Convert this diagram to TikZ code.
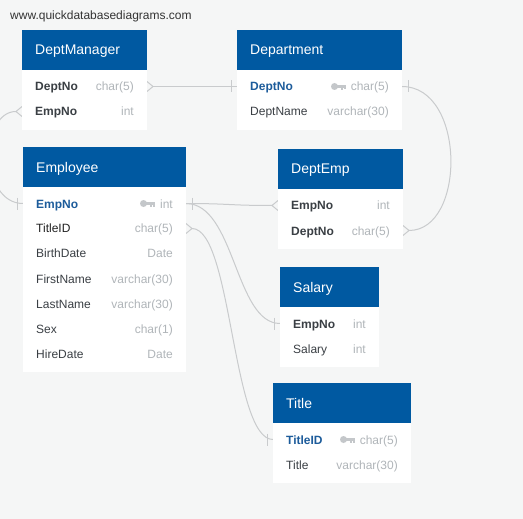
\documentclass[tikz,border=0pt]{standalone}
\usepackage{fontspec}
\setmainfont{Liberation Sans}
\usetikzlibrary{calc}
\definecolor{bg}{HTML}{F5F6F6}
\definecolor{hdr}{HTML}{0059A1}
\definecolor{fld}{HTML}{3A3F44}
\definecolor{fldd}{HTML}{222222}
\definecolor{typ}{HTML}{B0B5B9}
\definecolor{pk}{HTML}{1D5C9B}
\definecolor{conn}{HTML}{C9CBCD}
\definecolor{keyc}{HTML}{C4C7CA}
\definecolor{site}{HTML}{333333}
\newcommand\dbkey[2]{%
  \fill[keyc] (#1+3.5,#2) circle (3.5);
  \fill[keyc] (#1+6,#2-1.3) rectangle (#1+15,#2+1.3);
  \fill[keyc] (#1+10,#2+1.3) rectangle (#1+12,#2+3.6);
  \fill[keyc] (#1+13,#2+1.3) rectangle (#1+15,#2+3);
}
\begin{document}
\begin{tikzpicture}[x=1pt,y=-1pt,
  hdrbox/.style={fill=hdr, draw=none, anchor=north west, inner sep=0, minimum height=40pt},
  bodybox/.style={fill=white, draw=none, anchor=north west, inner sep=0},
  hdrtext/.style={text=white, font=\fontsize{14}{16}\selectfont, anchor=base west, inner sep=0},
  fname/.style={text=fld, font=\fontsize{12}{14}\selectfont, anchor=base west, inner sep=0},
  fdname/.style={fname, text=fldd},
  fkname/.style={fname, font=\fontsize{12}{14}\selectfont\bfseries},
  pkname/.style={fkname, text=pk},
  ftype/.style={text=typ, font=\fontsize{12}{14}\selectfont, anchor=base east, inner sep=0},
  connline/.style={draw=conn, line width=1pt},
]
\useasboundingbox (0,0) rectangle (523,519);
\fill[bg] (0,0) rectangle (523,519);
\clip (0,0) rectangle (523,519);

\node[anchor=base west, inner sep=0, text=site, font=\fontsize{12}{14}\selectfont] (site) at (10,19.5) {www.quickdatabasediagrams.com};

% connector end coordinates
\coordinate (dmDeptR) at (147,86.5);
\coordinate (dmDeptTip) at (153,86.5);
\coordinate (depDeptL) at (237,86.5);
\coordinate (depDeptR) at (402,86.5);
\coordinate (deDeptR) at (403,230.5);
\coordinate (deDeptTip) at (409,230.5);
\coordinate (empEmpR) at (186,203.5);
\coordinate (deEmpL) at (278,205.5);
\coordinate (deEmpTip) at (272,205.5);
\coordinate (salEmpL) at (280,323.5);
\coordinate (empTitR) at (186,228.5);
\coordinate (empTitTip) at (192,228.5);
\coordinate (titL) at (273,439.5);
\coordinate (dmEmpL) at (22,111.5);
\coordinate (dmEmpTip) at (16,111.5);
\coordinate (empEmpL) at (23,203.5);

% connectors
\draw[connline] (dmDeptTip) -- (depDeptL);
\draw[connline] (depDeptR) .. controls ($(depDeptR)+(64,0)$) and ($(deDeptTip)+(57,0)$) .. (deDeptTip);
\draw[connline] (empEmpR) .. controls ($(empEmpR)+(43,0)$) and ($(deEmpTip)+(-43,0)$) .. (deEmpTip);
\draw[connline] (empEmpR) .. controls ($(empEmpR)+(49,0)$) and ($(salEmpL)+(-45,0)$) .. (salEmpL);
\draw[connline] (empTitTip) .. controls ($(empTitTip)+(40,0)$) and ($(titL)+(-41,0)$) .. (titL);
\draw[connline] (dmEmpTip) .. controls ($(dmEmpTip)+(-36,0)$) and ($(empEmpL)+(-43,0)$) .. (empEmpL);

% crow's feet (many)
\draw[connline] ([yshift=5pt]dmDeptR) -- (dmDeptTip) -- ([yshift=-5pt]dmDeptR);
\draw[connline] ([yshift=5pt]deDeptR) -- (deDeptTip) -- ([yshift=-5pt]deDeptR);
\draw[connline] ([yshift=5pt]deEmpL) -- (deEmpTip) -- ([yshift=-5pt]deEmpL);
\draw[connline] ([yshift=5pt]empTitR) -- (empTitTip) -- ([yshift=-5pt]empTitR);
\draw[connline] ([yshift=5pt]dmEmpL) -- (dmEmpTip) -- ([yshift=-5pt]dmEmpL);
% bars (one)
\draw[connline] ([xshift=-6pt,yshift=6pt]depDeptL) -- ([xshift=-6pt,yshift=-6pt]depDeptL);
\draw[connline] ([xshift=6pt,yshift=6pt]depDeptR) -- ([xshift=6pt,yshift=-6pt]depDeptR);
\draw[connline] ([xshift=6pt,yshift=6pt]empEmpR) -- ([xshift=6pt,yshift=-6pt]empEmpR);
\draw[connline] ([xshift=-6pt,yshift=6pt]salEmpL) -- ([xshift=-6pt,yshift=-6pt]salEmpL);
\draw[connline] ([xshift=-6pt,yshift=6pt]titL) -- ([xshift=-6pt,yshift=-6pt]titL);
\draw[connline] ([xshift=-6pt,yshift=6pt]empEmpL) -- ([xshift=-6pt,yshift=-6pt]empEmpL);

% DeptManager
\node[hdrbox, minimum width=125pt] (dmH) at (22,30) {};
\node[bodybox, minimum width=125pt, minimum height=60pt] (dmB) at (22,70) {};
\node[hdrtext] (dmT) at (35,55) {DeptManager};
\node[fkname] (dmF1) at (35,91) {DeptNo};
\node[ftype] (dmY1) at (134,91) {char(5)};
\node[fkname] (dmF2) at (35,116) {EmpNo};
\node[ftype] (dmY2) at (134,116) {int};

% Department
\node[hdrbox, minimum width=165pt] (depH) at (237,30) {};
\node[bodybox, minimum width=165pt, minimum height=60pt] (depB) at (237,70) {};
\node[hdrtext] (depT) at (250,55) {Department};
\node[pkname] (depF1) at (250,91) {DeptNo};
\node[ftype] (depY1) at (389,91) {char(5)};
\node[fname] (depF2) at (250,116) {DeptName};
\node[ftype] (depY2) at (389,116) {varchar(30)};
\dbkey{331}{86.5}

% Employee
\node[hdrbox, minimum width=163pt] (empH) at (23,147) {};
\node[bodybox, minimum width=163pt, minimum height=185pt] (empB) at (23,187) {};
\node[hdrtext] (empT) at (36,172) {Employee};
\node[pkname] (empF1) at (36,208) {EmpNo};
\node[ftype] (empY1) at (173,208) {int};
\node[fdname] (empF2) at (36,233) {TitleID};
\node[ftype] (empY2) at (173,233) {char(5)};
\node[fname] (empF3) at (36,258) {BirthDate};
\node[ftype] (empY3) at (173,258) {Date};
\node[fname] (empF4) at (36,283) {FirstName};
\node[ftype] (empY4) at (173,283) {varchar(30)};
\node[fname] (empF5) at (36,308) {LastName};
\node[ftype] (empY5) at (173,308) {varchar(30)};
\node[fname] (empF6) at (36,333) {Sex};
\node[ftype] (empY6) at (173,333) {char(1)};
\node[fname] (empF7) at (36,358) {HireDate};
\node[ftype] (empY7) at (173,358) {Date};
\dbkey{140}{203.5}

% DeptEmp
\node[hdrbox, minimum width=125pt] (deH) at (278,149) {};
\node[bodybox, minimum width=125pt, minimum height=60pt] (deB) at (278,189) {};
\node[hdrtext] (deT) at (291,174) {DeptEmp};
\node[fkname] (deF1) at (291,210) {EmpNo};
\node[ftype] (deY1) at (390,210) {int};
\node[fkname] (deF2) at (291,235) {DeptNo};
\node[ftype] (deY2) at (390,235) {char(5)};

% Salary
\node[hdrbox, minimum width=99pt] (salH) at (280,267) {};
\node[bodybox, minimum width=99pt, minimum height=60pt] (salB) at (280,307) {};
\node[hdrtext] (salT) at (293,292) {Salary};
\node[fkname] (salF1) at (293,328) {EmpNo};
\node[ftype] (salY1) at (366,328) {int};
\node[fname] (salF2) at (293,353) {Salary};
\node[ftype] (salY2) at (366,353) {int};

% Title
\node[hdrbox, minimum width=138pt] (titH) at (273,383) {};
\node[bodybox, minimum width=138pt, minimum height=60pt] (titB) at (273,423) {};
\node[hdrtext] (titT) at (286,408) {Title};
\node[pkname] (titF1) at (286,444) {TitleID};
\node[ftype] (titY1) at (398,444) {char(5)};
\node[fname] (titF2) at (286,469) {Title};
\node[ftype] (titY2) at (398,469) {varchar(30)};
\dbkey{340}{439.5}
\end{tikzpicture}
\end{document}
